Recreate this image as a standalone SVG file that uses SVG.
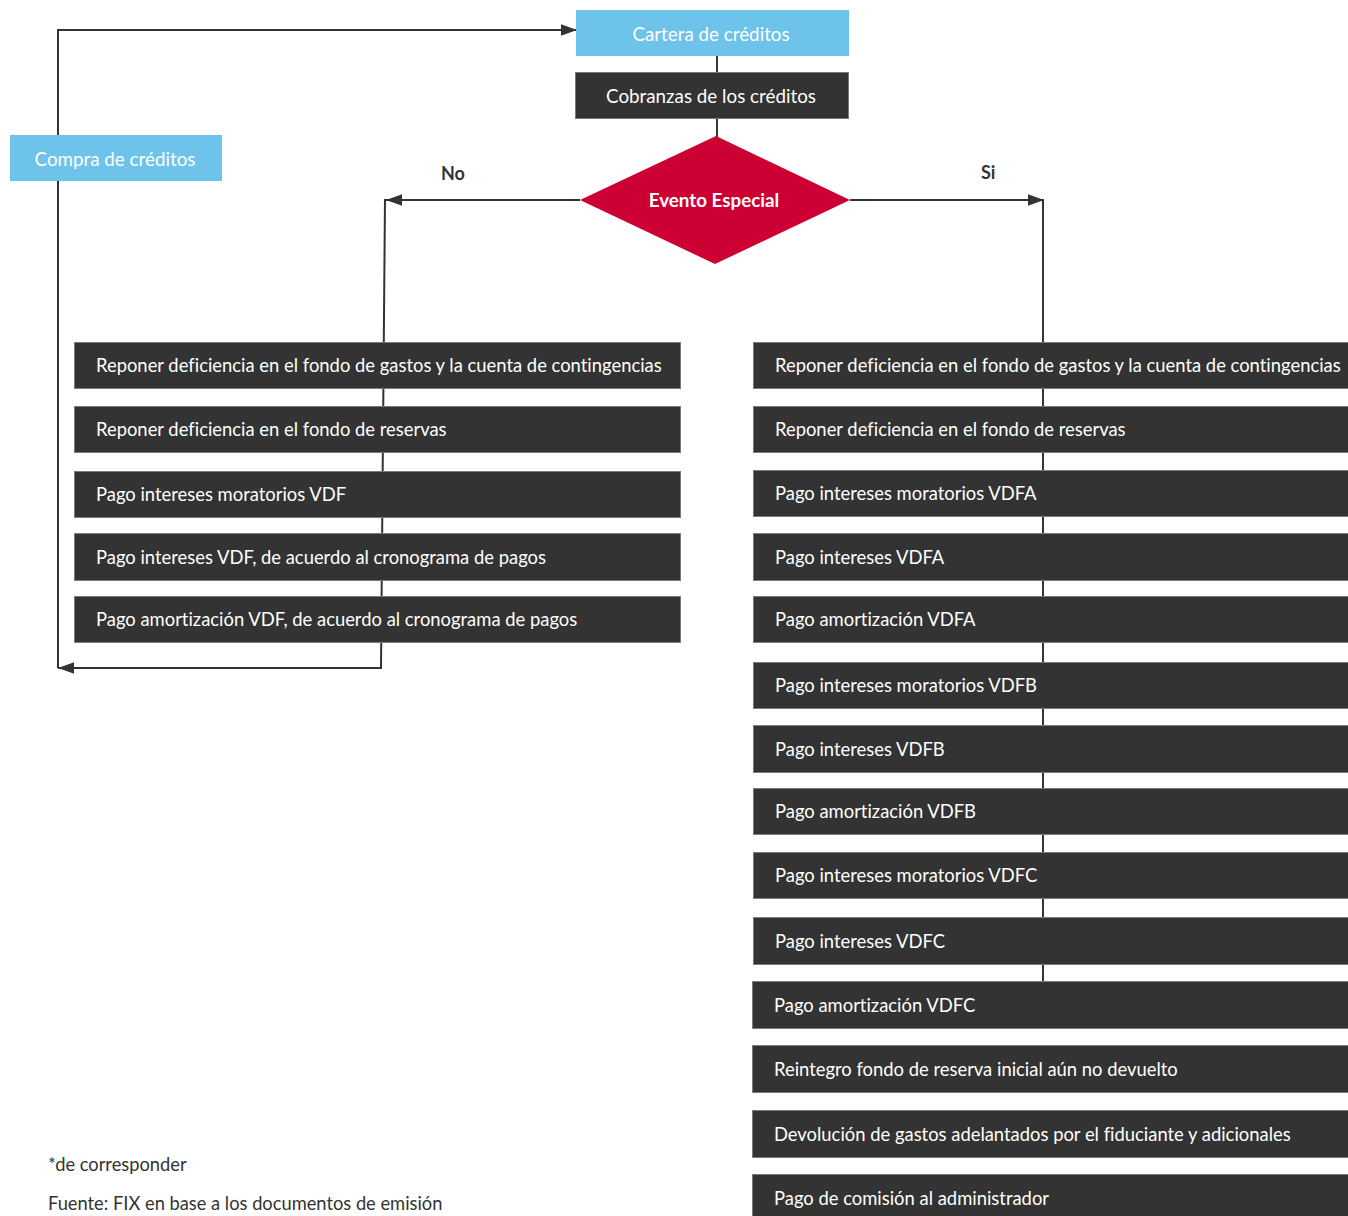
<svg xmlns="http://www.w3.org/2000/svg" width="1348" height="1216" viewBox="0 0 1348 1216">
<defs>
<marker id="arr" markerUnits="userSpaceOnUse" markerWidth="16" markerHeight="12" viewBox="0 0 14 10" refX="14" refY="5" orient="auto">
<path d="M0,0 L14,5 L0,10 z" fill="#333333"/>
</marker>
<style>
.lk{fill:none;stroke:#333333;stroke-width:2}
.dk{fill:#333333;stroke:#7a7a7a;stroke-width:1}
.bl{fill:#6DC3EA}
.t{font-family:Lato,"Open Sans","Liberation Sans",sans-serif;font-size:18.4px;fill:#ffffff;font-variant-ligatures:none}
.tb{font-size:18.8px}
.c{text-anchor:middle}
.lab{font-family:Lato,"Open Sans","Liberation Sans",sans-serif;font-size:18px;font-weight:bold;fill:#333333}
.note{font-family:Lato,"Open Sans","Liberation Sans",sans-serif;font-size:18.3px;fill:#333333}
</style>
</defs>
<rect width="1348" height="1216" fill="#ffffff"/>
<g id="connectors">
<path class="lk" d="M58,668 L58,30 L577,30" marker-end="url(#arr)"/>
<line class="lk" x1="717" y1="56" x2="717" y2="74"/>
<line class="lk" x1="717" y1="119" x2="717" y2="137"/>
<line class="lk" x1="580" y1="200" x2="386" y2="200" marker-end="url(#arr)"/>
<line class="lk" x1="385" y1="199" x2="381" y2="668"/>
<line class="lk" x1="382" y1="668" x2="58" y2="668" marker-end="url(#arr)"/>
<line class="lk" x1="850" y1="200" x2="1044" y2="200" marker-end="url(#arr)"/>
<line class="lk" x1="1043" y1="199" x2="1043" y2="983"/>
</g>
<g id="compra"><rect class="bl" x="10" y="135" width="212" height="46"/><text class="t tb c" x="115" y="166">Compra de créditos</text></g>
<g id="cartera"><rect class="bl" x="576" y="10" width="273" height="46"/><text class="t tb c" x="711" y="41">Cartera de créditos</text></g>
<g id="cobranzas"><rect class="dk" x="575.5" y="72.5" width="273" height="46"/><text class="t tb c" x="711" y="103">Cobranzas de los créditos</text></g>
<g id="evento"><polygon points="716,136 850,200 715,264 580,200" fill="#CC0033"/><text class="t tb c" x="714" y="207" font-weight="bold">Evento Especial</text></g>
<text class="lab" x="441" y="180">No</text>
<text class="lab" x="981" y="179">Si</text>
<g id="l1"><rect class="dk" x="74.5" y="342.5" width="606" height="46"/><text class="t" x="96" y="372">Reponer deficiencia en el fondo de gastos y la cuenta de contingencias</text></g>
<g id="l2"><rect class="dk" x="74.5" y="406.5" width="606" height="46"/><text class="t" x="96" y="436">Reponer deficiencia en el fondo de reservas</text></g>
<g id="l3"><rect class="dk" x="74.5" y="471.5" width="606" height="46"/><text class="t" x="96" y="501">Pago intereses moratorios VDF</text></g>
<g id="l4"><rect class="dk" x="74.5" y="533.5" width="606" height="47"/><text class="t" x="96" y="564">Pago intereses VDF, de acuerdo al cronograma de pagos</text></g>
<g id="l5"><rect class="dk" x="74.5" y="596.5" width="606" height="46"/><text class="t" x="96" y="626">Pago amortización VDF, de acuerdo al cronograma de pagos</text></g>
<g id="r1"><rect class="dk" x="753.5" y="342.5" width="600" height="46"/><text class="t" x="775" y="372">Reponer deficiencia en el fondo de gastos y la cuenta de contingencias</text></g>
<g id="r2"><rect class="dk" x="753.5" y="406.5" width="600" height="46"/><text class="t" x="775" y="436">Reponer deficiencia en el fondo de reservas</text></g>
<g id="r3"><rect class="dk" x="753.5" y="470.5" width="600" height="46"/><text class="t" x="775" y="500">Pago intereses moratorios VDFA</text></g>
<g id="r4"><rect class="dk" x="753.5" y="533.5" width="600" height="47"/><text class="t" x="775" y="564">Pago intereses VDFA</text></g>
<g id="r5"><rect class="dk" x="753.5" y="596.5" width="600" height="46"/><text class="t" x="775" y="626">Pago amortización VDFA</text></g>
<g id="r6"><rect class="dk" x="753.5" y="662.5" width="600" height="46"/><text class="t" x="775" y="692">Pago intereses moratorios VDFB</text></g>
<g id="r7"><rect class="dk" x="753.5" y="725.5" width="600" height="47"/><text class="t" x="775" y="756">Pago intereses VDFB</text></g>
<g id="r8"><rect class="dk" x="753.5" y="788.5" width="600" height="46"/><text class="t" x="775" y="818">Pago amortización VDFB</text></g>
<g id="r9"><rect class="dk" x="753.5" y="852.5" width="600" height="46"/><text class="t" x="775" y="882">Pago intereses moratorios VDFC</text></g>
<g id="r10"><rect class="dk" x="753.5" y="917.5" width="600" height="47"/><text class="t" x="775" y="948">Pago intereses VDFC</text></g>
<g id="r11"><rect class="dk" x="752.5" y="981.5" width="600" height="47"/><text class="t" x="774" y="1012">Pago amortización VDFC</text></g>
<g id="r12"><rect class="dk" x="752.5" y="1045.5" width="600" height="47"/><text class="t" x="774" y="1076">Reintegro fondo de reserva inicial aún no devuelto</text></g>
<g id="r13"><rect class="dk" x="752.5" y="1110.5" width="600" height="47"/><text class="t" x="774" y="1141">Devolución de gastos adelantados por el fiduciante y adicionales</text></g>
<g id="r14"><rect class="dk" x="752.5" y="1174.5" width="600" height="47"/><text class="t" x="774" y="1205">Pago de comisión al administrador</text></g>
<text class="note" x="48" y="1171">*de corresponder</text>
<text class="note" x="48" y="1210">Fuente: FIX en base a los documentos de emisión</text>
</svg>
